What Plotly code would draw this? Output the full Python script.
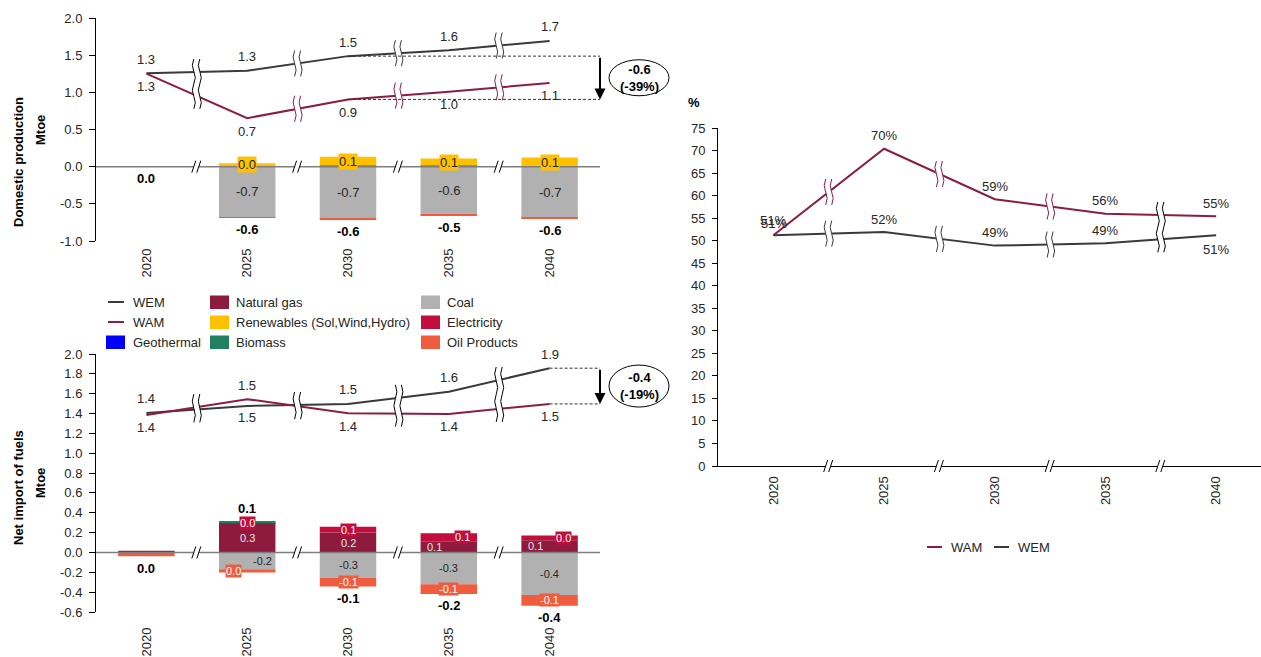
import plotly.graph_objects as go

W, H = 1261, 657
FONT = "Liberation Sans, Arial, sans-serif"
TXT = "#262626"

# ---------------- data ----------------
years = ["2020", "2025", "2030", "2035", "2040"]

# Domestic production (Mtoe)
dom_wem = [1.258, 1.29, 1.487, 1.567, 1.692]
dom_wam = [1.252, 0.653, 0.905, 1.007, 1.127]
# WAM - WEM difference by fuel (Mtoe)
dom_gas = [0, 0, 0, 0, 0]
dom_elec = [0, 0, 0, 0, 0]
dom_bio = [0, 0, 0.015, 0.015, 0]
dom_ren = [0, 0.045, 0.12, 0.095, 0.125]
dom_geo = [0, 0, 0, 0, 0]
dom_coal = [0, -0.68, -0.70, -0.648, -0.688]
dom_oil = [0, -0.004, -0.006, -0.006, -0.006]

# Net import of fuels (Mtoe)
imp_wem = [1.406, 1.477, 1.497, 1.62, 1.857]
imp_wam = [1.386, 1.545, 1.403, 1.396, 1.497]
imp_gas = [0.018, 0.294, 0.20, 0.109, 0.122]
imp_elec = [0, 0.004, 0.06, 0.085, 0.048]
imp_bio = [0, 0.012, 0, 0, 0]
imp_ren = [0, 0, 0, 0, 0]
imp_geo = [0, 0, 0, 0, 0]
imp_coal = [0, -0.168, -0.254, -0.32, -0.428]
imp_oil = [-0.038, -0.035, -0.09, -0.098, -0.108]

# Import dependency (%)
share_wam = [51.2, 70.4, 59.2, 56.0, 55.4]
share_wem = [51.2, 51.9, 48.9, 49.4, 51.2]

top_ticks = [-1.0, -0.5, 0.0, 0.5, 1.0, 1.5, 2.0]
bot_ticks = [-0.6, -0.4, -0.2, 0.0, 0.2, 0.4, 0.6, 0.8, 1.0, 1.2, 1.4, 1.6, 1.8, 2.0]
right_ticks = list(range(0, 80, 5))

# ---------------- styles ----------------
COL = dict(wem="#3a3a3a", wam="#8c1c44", gas="#8e1a3e", ren="#ffc000", coal="#b1b1b1",
           elec="#c30d3c", geo="#0000ff", bio="#21805e", oil="#f05d3e")
NAMES = dict(gas="Natural gas", ren="Renewables (Sol,Wind,Hydro)", coal="Coal",
             elec="Electricity", geo="Geothermal", bio="Biomass", oil="Oil Products")

# pixel geometry of the plot areas
TOP = dict(x0=96, x1=600, y0=18, y1=241, yr=(-1.0, 2.0))
BOT = dict(x0=96, x1=600, y0=354, y1=612, yr=(-0.6, 2.0))
RGT = dict(x0=718, x1=1261, y0=128, y1=466, yr=(0, 75))


def xd(g):
    return [g["x0"] / W, g["x1"] / W]


def yd(g):
    return [1 - g["y1"] / H, 1 - g["y0"] / H]


def ppu(g):
    return (g["y1"] - g["y0"]) / (g["yr"][1] - g["yr"][0])


def fmt(v, nd=1):
    s = f"{v:.{nd}f}"
    return s.replace("-", "") if float(s) == 0 else s


xs = list(range(len(years)))
fig = go.Figure()
shapes = []
ann = []

# ---------------- bars ----------------
order = ["gas", "elec", "bio", "ren", "geo", "coal", "oil"]
dom = dict(gas=dom_gas, elec=dom_elec, bio=dom_bio, ren=dom_ren, geo=dom_geo, coal=dom_coal, oil=dom_oil)
imp = dict(gas=imp_gas, elec=imp_elec, bio=imp_bio, ren=imp_ren, geo=imp_geo, coal=imp_coal, oil=imp_oil)


def stack(data):
    pos = [0.0] * 5
    neg = [0.0] * 5
    cen = {}
    for k in order:
        c = []
        for i, v in enumerate(data[k]):
            if v >= 0:
                c.append(pos[i] + v / 2)
                pos[i] += v
            else:
                c.append(neg[i] + v / 2)
                neg[i] += v
        cen[k] = c
    return cen, pos, neg


for data, xa, ya in [(dom, "x", "y"), (imp, "x2", "y2")]:
    for k in order:
        fig.add_trace(go.Bar(x=xs, y=data[k], name=NAMES[k], xaxis=xa, yaxis=ya, width=0.56,
                             marker=dict(color=COL[k], line=dict(width=0)), hoverinfo="skip",
                             showlegend=False))

# bar labels
LBL_TOP = dict(ren=dict(bg=COL["ren"], fc=TXT, size=13), coal=dict(bg=None, fc=TXT, size=13))
LBL_BOT = dict(gas=dict(bg=None, fc="#e6e6e6", size=11), elec=dict(bg=COL["elec"], fc="white", size=11),
               coal=dict(bg=None, fc=TXT, size=11), oil=dict(bg=COL["oil"], fc="white", size=11))
DX_BOT = dict(gas=[0, 0, 0, -14, -14], elec=[0, 0, 0, 14, 14], coal=[0, 15, 0, 0, 0], oil=[0, -14, 0, 0, 0])

for data, lbl, dxs, xa, ya in [(dom, LBL_TOP, {}, "x", "y"), (imp, LBL_BOT, DX_BOT, "x2", "y2")]:
    cen, pos, neg = stack(data)
    for k, st in lbl.items():
        for i in range(1, 5):
            v = data[k][i]
            if v == 0:
                continue
            a = dict(x=xs[i], y=cen[k][i], xref=xa, yref=ya, text=fmt(v), showarrow=False,
                     xshift=dxs.get(k, [0] * 5)[i], font=dict(size=st["size"], color=st["fc"]),
                     borderpad=0)
            if st["bg"]:
                a["bgcolor"] = st["bg"]
            ann.append(a)
    for i in range(5):
        tot = pos[i] + neg[i]
        if tot > 0:
            ann.append(dict(x=xs[i], y=pos[i], xref=xa, yref=ya, text=f"<b>{fmt(tot)}</b>",
                            showarrow=False, yshift=13, font=dict(size=13, color="black")))
        else:
            ann.append(dict(x=xs[i], y=neg[i], xref=xa, yref=ya, text=f"<b>{fmt(tot)}</b>",
                            showarrow=False, yshift=-12, font=dict(size=13, color="black")))

# zero lines above bars (left charts)
for ya, xa in [("y", "x"), ("y2", "x2")]:
    shapes.append(dict(type="line", xref=xa + " domain", yref=ya, x0=0, x1=1, y0=0, y1=0,
                       line=dict(color="#7f7f7f", width=1.5), layer="above"))

# ---------------- lines ----------------
for wem, wam, xa, ya in [(dom_wem, dom_wam, "x", "y"), (imp_wem, imp_wam, "x2", "y2"),
                         (share_wem, share_wam, "x3", "y3")]:
    fig.add_trace(go.Scatter(x=xs, y=wem, mode="lines", name="WEM", xaxis=xa, yaxis=ya,
                             line=dict(color=COL["wem"], width=2), hoverinfo="skip", showlegend=False))
    fig.add_trace(go.Scatter(x=xs, y=wam, mode="lines", name="WAM", xaxis=xa, yaxis=ya,
                             line=dict(color=COL["wam"], width=2), hoverinfo="skip", showlegend=False))

# line labels left charts
for wem, wam, xa, ya in [(dom_wem, dom_wam, "x", "y"), (imp_wem, imp_wam, "x2", "y2")]:
    for i in range(5):
        up_wem = wem[i] >= wam[i]
        ann.append(dict(x=xs[i], y=wem[i], xref=xa, yref=ya, text=fmt(wem[i]), showarrow=False,
                        yshift=14 if up_wem else -12, font=dict(size=13, color=TXT)))
        ann.append(dict(x=xs[i], y=wam[i], xref=xa, yref=ya, text=fmt(wam[i]), showarrow=False,
                        yshift=-13 if up_wem else 14, font=dict(size=13, color=TXT)))

# right chart labels
WAM_R_SHIFT = [15, 13, 13, 13, 13]
WEM_R_SHIFT = [12, 13, 13, 13, -14]
for i in range(5):
    ann.append(dict(x=xs[i], y=share_wam[i], xref="x3", yref="y3", text=f"{share_wam[i]:.0f}%",
                    showarrow=False, yshift=WAM_R_SHIFT[i], font=dict(size=13, color=TXT)))
    ann.append(dict(x=xs[i], y=share_wem[i], xref="x3", yref="y3", text=f"{share_wem[i]:.0f}%",
                    showarrow=False, yshift=WEM_R_SHIFT[i], xshift=1 if i == 0 else 0,
                    font=dict(size=13, color=TXT)))


# ---------------- break marks ----------------
def wave(dx, h, n, amp=3):
    seg = 2 * h / n
    p = f"M {dx},{-h}"
    y = -h
    for k in range(n):
        a = amp if k % 2 == 0 else -amp
        p += f" Q {dx + a:.1f},{y + seg / 2:.1f} {dx},{y + seg:.1f}"
        y += seg
    return p


def wave_fill(dx1, dx2, h, n, amp=3):
    seg = 2 * h / n
    p = f"M {dx1},{-h}"
    y = -h
    for k in range(n):
        a = amp if k % 2 == 0 else -amp
        p += f" Q {dx1 + a:.1f},{y + seg / 2:.1f} {dx1},{y + seg:.1f}"
        y += seg
    p += f" L {dx2},{h}"
    for k in reversed(range(n)):
        a = amp if k % 2 == 0 else -amp
        p += f" Q {dx2 + a:.1f},{y - seg / 2:.1f} {dx2},{y - seg:.1f}"
        y -= seg
    return p + " Z"


def add_wave(xa, ya, xc, yc, h, color):
    n = max(2, int(round(2 * h / 13)))
    base = dict(type="path", xref=xa, yref=ya, xsizemode="pixel", ysizemode="pixel",
                xanchor=xc, yanchor=yc, layer="above")
    shapes.append(dict(base, path=wave_fill(-3, 3, h, n), fillcolor="white", line=dict(width=0)))
    shapes.append(dict(base, path=wave(-3, h, n), line=dict(color=color, width=1)))
    shapes.append(dict(base, path=wave(3, h, n), line=dict(color=color, width=1)))


def add_slash(xa, ya, xc, yc):
    base = dict(type="path", xref=xa, yref=ya, xsizemode="pixel", ysizemode="pixel",
                xanchor=xc, yanchor=yc, layer="above")
    shapes.append(dict(base, path="M -5,-6 L -1,6 L 4,6 L 0,-6 Z", fillcolor="white", line=dict(width=0)))
    shapes.append(dict(base, path="M -5,-6 L -1,6 M 0,-6 L 4,6", line=dict(color="black", width=1)))


for wem, wam, xa, ya, g, colored in [(dom_wem, dom_wam, "x", "y", TOP, True),
                                     (imp_wem, imp_wam, "x2", "y2", BOT, False),
                                     (share_wem, share_wam, "x3", "y3", RGT, True)]:
    s = ppu(g)
    for i in range(4):
        xm = i + 0.5
        m1 = (wem[i] + wem[i + 1]) / 2
        m2 = (wam[i] + wam[i + 1]) / 2
        dpx = abs(m1 - m2) * s
        if dpx < 35:
            add_wave(xa, ya, xm, (m1 + m2) / 2, dpx / 2 + 13, "black")
        else:
            add_wave(xa, ya, xm, m1, 13, COL["wem"] if colored else "black")
            add_wave(xa, ya, xm, m2, 13, COL["wam"] if colored else "black")
        if ya == "y3":
            add_slash("x3", "y3 domain", xm, 0)
        else:
            add_slash(xa, ya, xm, 0)

# ---------------- gap arrows ----------------
for wem, wam, k, xa, ya, eh in [(dom_wem, dom_wam, 2, "x", "y", 36), (imp_wem, imp_wam, 4, "x2", "y2", 42)]:
    for v in (wem[k], wam[k]):
        shapes.append(dict(type="line", xref=xa, yref=ya, x0=xs[k], x1=4.5, y0=v, y1=v,
                           line=dict(color="#333333", width=1, dash="3px,2px")))
    ann.append(dict(x=4.5, y=wam[k], ax=4.5, ay=wem[k], xref=xa, yref=ya, axref=xa, ayref=ya,
                    showarrow=True, arrowhead=2, arrowsize=1.1, arrowwidth=2, arrowcolor="black",
                    text="", standoff=0))
    ym = (wem[k] + wam[k]) / 2
    shapes.append(dict(type="circle", xref="paper", yref=ya, x0=609 / W, x1=669 / W,
                       ysizemode="pixel", yanchor=ym, y0=-eh / 2, y1=eh / 2,
                       line=dict(color="black", width=1), fillcolor="white"))
    d = wam[k] - wem[k]
    pct = d / wem[k] * 100
    ann.append(dict(x=639 / W, y=ym, xref="paper", yref=ya, showarrow=False,
                    xanchor="center", yanchor="middle",
                    text=f"<b>{fmt(d)}<br>({pct:.0f}%)</b>", font=dict(size=13, color="black")))

# ---------------- axis titles ----------------
for txt, px, py in [("<b>Domestic production</b>", 18, 162), ("<b>Mtoe</b>", 40, 130),
                    ("<b>Net import of fuels</b>", 18, 488), ("<b>Mtoe</b>", 40, 483)]:
    ann.append(dict(x=px / W, y=1 - py / H, xref="paper", yref="paper", text=txt, textangle=-90,
                    xanchor="center", yanchor="middle",
                    showarrow=False, font=dict(size=13, color="black")))
ann.append(dict(x=694 / W, y=1 - 102 / H, xref="paper", yref="paper", text="<b>%</b>",
                xanchor="center", yanchor="middle",
                showarrow=False, font=dict(size=13, color="black")))

# ---------------- manual legends ----------------
LEG_ROWS = [302, 322, 342]
LEG = [[("line", "wem", "WEM"), ("sq", "gas", NAMES["gas"]), ("sq", "coal", NAMES["coal"])],
       [("line", "wam", "WAM"), ("sq", "ren", NAMES["ren"]), ("sq", "elec", NAMES["elec"])],
       [("sq", "geo", NAMES["geo"]), ("sq", "bio", NAMES["bio"]), ("sq", "oil", NAMES["oil"])]]
LEG_COLS = [(106, 131), (210, 234), (421, 445)]
for r, row in enumerate(LEG):
    py = LEG_ROWS[r]
    for c, (kind, key, label) in enumerate(row):
        sx, tx = LEG_COLS[c]
        if kind == "line":
            shapes.append(dict(type="line", xref="paper", yref="paper", x0=108 / W, x1=124 / W,
                               y0=1 - py / H, y1=1 - py / H, line=dict(color=COL[key], width=2)))
        else:
            shapes.append(dict(type="rect", xref="paper", yref="paper", x0=sx / W, x1=(sx + 19) / W,
                               y0=1 - (py + 7) / H, y1=1 - (py - 6.5) / H, fillcolor=COL[key],
                               line=dict(width=0)))
        ann.append(dict(x=tx / W, y=1 - py / H, xref="paper", yref="paper", text=label,
                        xanchor="left", yanchor="middle", showarrow=False,
                        font=dict(size=13, color=TXT)))

for key, label, x0, x1, tx in [("wam", "WAM", 927, 942, 949), ("wem", "WEM", 994, 1009, 1016)]:
    shapes.append(dict(type="line", xref="paper", yref="paper", x0=x0 / W, x1=x1 / W,
                       y0=1 - 547 / H, y1=1 - 547 / H, line=dict(color=COL[key], width=2)))
    ann.append(dict(x=tx / W, y=1 - 547 / H, xref="paper", yref="paper", text=label,
                    xanchor="left", yanchor="middle", showarrow=False,
                    font=dict(size=13, color=TXT)))

# ---------------- axes ----------------
common_x = dict(range=[-0.5, 4.5], tickvals=xs, ticktext=years, tickangle=-90, showgrid=False,
                zeroline=False, ticks="", fixedrange=True, tickfont=dict(size=13, color=TXT),
                automargin=False)
common_y = dict(showgrid=False, zeroline=False, showline=True, linecolor="black", linewidth=1,
                ticks="outside", ticklen=6, tickcolor="black", fixedrange=True,
                tickfont=dict(size=13, color=TXT), ticklabelstandoff=4, automargin=False)

fig.update_layout(
    width=W, height=H, margin=dict(l=0, r=0, t=0, b=0, pad=0), autosize=False,
    paper_bgcolor="white", plot_bgcolor="white", showlegend=False, barmode="relative",
    font=dict(family=FONT, size=13, color=TXT),
    xaxis=dict(common_x, domain=xd(TOP), anchor="y", showline=False, ticklabelstandoff=4),
    yaxis=dict(common_y, domain=yd(TOP), anchor="x", range=list(TOP["yr"]),
               tickvals=top_ticks, ticktext=[f"{t:.1f}" for t in top_ticks]),
    xaxis2=dict(common_x, domain=xd(BOT), anchor="y2", showline=False, ticklabelstandoff=12),
    yaxis2=dict(common_y, domain=yd(BOT), anchor="x2", range=list(BOT["yr"]),
                tickvals=bot_ticks, ticktext=[f"{t:.1f}" for t in bot_ticks]),
    xaxis3=dict(common_x, domain=xd(RGT), anchor="y3", range=[-0.5, 4.405], showline=True,
                linecolor="black", linewidth=1, ticklabelstandoff=4),
    yaxis3=dict(common_y, domain=yd(RGT), anchor="x3", range=list(RGT["yr"]),
                tickvals=right_ticks, ticklen=5),
    shapes=shapes, annotations=ann,
)

fig.write_html("out.html", config={"displayModeBar": False},
               post_script="document.body.style.margin='0';document.body.style.overflow='hidden';")
